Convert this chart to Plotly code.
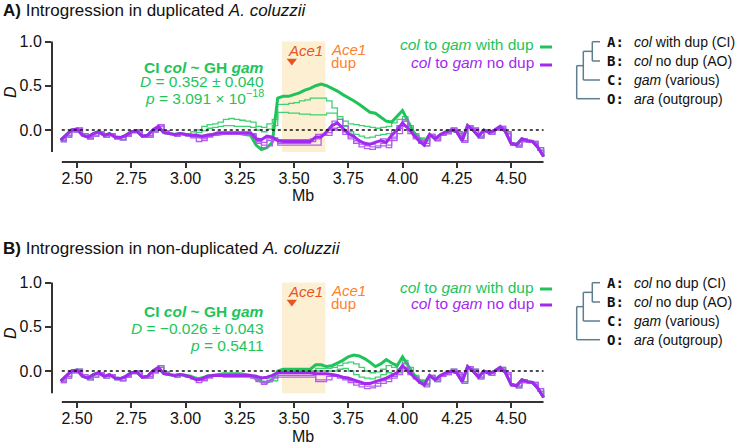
import plotly.graph_objects as go

# ---------------- data ----------------
POS_MB = [2.425, 2.45, 2.475, 2.5, 2.525, 2.55, 2.575, 2.6, 2.625, 2.65, 2.675, 2.7, 2.725, 2.75,
          2.775, 2.8, 2.825, 2.85, 2.875, 2.9, 2.925, 2.95, 2.975,
          3.0, 3.025, 3.05, 3.075, 3.1, 3.125, 3.15, 3.175, 3.2, 3.225, 3.25, 3.275, 3.3, 3.325,
          3.35, 3.375, 3.4, 3.425, 3.45, 3.475, 3.5, 3.525, 3.55, 3.575, 3.6, 3.625, 3.65, 3.675,
          3.7, 3.725, 3.75, 3.775, 3.8, 3.825, 3.85, 3.875, 3.9, 3.925, 3.95, 3.975, 4.0, 4.025,
          4.05, 4.075, 4.1,
          4.125, 4.15, 4.175, 4.2, 4.225, 4.25, 4.275, 4.3, 4.325, 4.35, 4.375, 4.4, 4.425, 4.45,
          4.475, 4.5, 4.525, 4.55, 4.575, 4.6, 4.625, 4.65]

# shared genomic background (left: 2.425-2.975, right: 4.125-4.65)
BG_LEFT = [-0.115, -0.06, 0.0, 0.01, -0.06, -0.08, -0.04, -0.02, -0.06, -0.04, -0.08, -0.085,
           -0.06, -0.02, -0.01, -0.07, -0.06, 0.0, 0.04, -0.03, -0.04, -0.05, -0.04]
BG_LEFT_ALT = [-0.13, -0.08, -0.02, 0.02, -0.04, -0.1, -0.07, -0.03, -0.08, -0.05, -0.1, -0.11,
               -0.07, -0.03, 0.0, -0.08, -0.08, -0.02, 0.06, -0.01, -0.05, -0.07, -0.05]
BG_RIGHT = [-0.05, -0.1, -0.05, -0.02, 0.0, -0.02, -0.12, 0.05, 0.0, -0.07, 0.0, -0.03, 0.0,
            0.04, -0.02, -0.15, -0.17, -0.1, -0.12, -0.13, -0.2, -0.3]
BG_RIGHT_ALT = [-0.07, -0.12, -0.06, -0.04, 0.02, -0.04, -0.14, 0.03, 0.02, -0.09, -0.02, -0.05,
                0.01, 0.02, -0.04, -0.17, -0.19, -0.13, -0.14, -0.15, -0.23, -0.3]

# window 3.0-4.1 Mb, panel A (duplicated col)
A_DUP_MAIN = [-0.05, -0.06, -0.07, -0.08, -0.06, -0.05, -0.05, -0.04, -0.04, -0.04, -0.04, -0.05,
              -0.06, -0.17, -0.22, -0.2, -0.14,
              0.36, 0.38, 0.38, 0.4, 0.42, 0.45, 0.47, 0.5, 0.52, 0.5, 0.47, 0.44, 0.4, 0.36, 0.33,
              0.29, 0.24, 0.2, 0.19, 0.15, 0.1, 0.09, 0.16, 0.22, 0.1, -0.02, -0.09, -0.14]
A_DUP_ALT1 = [-0.04, -0.02, 0.0, 0.04, 0.06, 0.07, 0.09, 0.12, 0.13, 0.12, 0.11, 0.1, 0.09, 0.04,
              0.03, 0.07, 0.12,
              0.29, 0.29, 0.3, 0.31, 0.33, 0.34, 0.36, 0.36, 0.36, 0.33, 0.25, 0.15, 0.1, 0.07, 0.06,
              0.05, 0.04, 0.03, 0.02, 0.03, 0.04, 0.08, 0.12, 0.15, 0.05, -0.04, -0.09, -0.12]
A_DUP_ALT2 = [-0.05, -0.05, -0.03, -0.01, 0.02, 0.03, 0.04, 0.05, 0.05, 0.04, 0.04, 0.04, 0.03,
              0.0, -0.02, 0.01, 0.05,
              0.2, 0.2, 0.19, 0.19, 0.18, 0.18, 0.17, 0.17, 0.17, 0.19, 0.19, 0.12, 0.04, -0.02,
              -0.05, -0.07, -0.09, -0.08, -0.06, -0.05, -0.04, 0.0, 0.05, 0.1, 0.0, -0.06, -0.1, -0.12]
A_NODUP_MAIN = [-0.05, -0.06, -0.06, -0.07, -0.06, -0.05, -0.03, -0.03, -0.03, -0.03, -0.03, -0.03,
                -0.03, -0.1, -0.11, -0.07, -0.08,
                -0.12, -0.13, -0.13, -0.13, -0.13, -0.13, -0.13, -0.08, -0.08, -0.02, 0.05, 0.08,
                0.02, -0.04, -0.07, -0.12, -0.15, -0.16, -0.14, -0.12, -0.14, -0.06, 0.0, 0.08, 0.02,
                -0.05, -0.12, -0.17]
A_NODUP_ALT1 = [-0.06, -0.09, -0.13, -0.1, -0.07, -0.06, -0.04, -0.04, -0.04, -0.04, -0.04, -0.04,
                -0.05, -0.15, -0.2, -0.18, -0.12,
                -0.15, -0.15, -0.15, -0.15, -0.15, -0.15, -0.1, -0.1, -0.06, 0.0, 0.1, 0.12, 0.05,
                -0.05, -0.12, -0.16, -0.18, -0.19, -0.18, -0.15, -0.17, -0.1, 0.02, 0.12, 0.0, -0.08,
                -0.15, -0.18]
A_NODUP_ALT2 = [-0.05, -0.07, -0.09, -0.12, -0.08, -0.06, -0.05, -0.05, -0.05, -0.05, -0.05, -0.05,
                -0.06, -0.12, -0.14, -0.1, -0.09,
                -0.17, -0.17, -0.17, -0.17, -0.17, -0.17, -0.17, -0.17, -0.05, -0.03, 0.02, 0.0,
                -0.05, -0.1, -0.15, -0.19, -0.21, -0.22, -0.2, -0.18, -0.2, -0.12, -0.04, 0.04,
                -0.04, -0.1, -0.15, -0.18]
A_NODUP_ALT3 = [-0.07, -0.08, -0.07, -0.09, -0.07, -0.05, -0.04, -0.04, -0.04, -0.04, -0.04, -0.04,
                -0.04, -0.13, -0.17, -0.12, -0.1,
                -0.11, -0.11, -0.11, -0.11, -0.11, -0.11, -0.13, -0.05, -0.05, -0.06, 0.0, 0.03,
                -0.02, -0.08, -0.12, -0.14, -0.17, -0.16, -0.13, -0.1, -0.12, -0.08, 0.05, 0.1, 0.0,
                -0.06, -0.12, -0.15]

# window 3.0-4.1 Mb, panel B (non-duplicated col)
B_DUP_MAIN = [-0.05, -0.06, -0.09, -0.08, -0.06, -0.05, -0.04, -0.03, -0.03, -0.03, -0.03, -0.04,
              -0.05, -0.09, -0.12, -0.13, -0.1,
              0.0, 0.02, 0.02, 0.02, 0.02, 0.02, 0.02, 0.07, 0.07, 0.05, 0.06, 0.09, 0.12, 0.16,
              0.18, 0.17, 0.14, 0.1, 0.05, 0.08, 0.13, 0.09, 0.06, 0.16, 0.07, -0.03, -0.1, -0.14]
B_DUP_ALT1 = [-0.06, -0.07, -0.08, -0.07, -0.05, -0.04, -0.04, -0.04, -0.04, -0.04, -0.04, -0.04,
              -0.05, -0.06, -0.08, -0.09, -0.07,
              0.0, 0.0, 0.0, 0.0, 0.0, 0.0, 0.0, 0.03, 0.03, 0.03, 0.04, 0.06, 0.09, 0.1, 0.08,
              0.04, 0.0, -0.02, -0.01, 0.02, 0.06, 0.04, 0.02, 0.12, 0.04, -0.05, -0.1, -0.14]
B_DUP_ALT2 = [-0.07, -0.09, -0.1, -0.08, -0.06, -0.05, -0.05, -0.05, -0.05, -0.05, -0.05, -0.05,
              -0.06, -0.1, -0.13, -0.12, -0.11,
              -0.01, -0.01, -0.01, -0.01, -0.01, -0.01, -0.01, 0.0, 0.0, 0.0, 0.0, 0.02, 0.03, 0.0,
              -0.04, -0.07, -0.08, -0.09, -0.07, -0.04, -0.02, -0.03, -0.02, 0.08, 0.0, -0.06,
              -0.11, -0.15]
B_NODUP_MAIN = [-0.05, -0.07, -0.1, -0.09, -0.06, -0.05, -0.05, -0.05, -0.05, -0.05, -0.05, -0.05,
                -0.05, -0.06, -0.08, -0.07, -0.05,
                -0.02, -0.02, -0.02, -0.02, -0.02, -0.02, -0.02, -0.03, -0.03, -0.03, -0.04, -0.05,
                -0.07, -0.08, -0.1, -0.12, -0.14, -0.14, -0.12, -0.1, -0.08, -0.05, -0.02, 0.06,
                0.0, -0.06, -0.12, -0.16]
B_NODUP_ALT1 = [-0.06, -0.09, -0.13, -0.11, -0.07, -0.06, -0.06, -0.06, -0.06, -0.06, -0.06, -0.06,
                -0.07, -0.1, -0.13, -0.11, -0.07,
                -0.05, -0.05, -0.05, -0.05, -0.05, -0.05, -0.05, -0.1, -0.1, -0.1, -0.06, -0.08,
                -0.1, -0.13, -0.16, -0.18, -0.2, -0.19, -0.17, -0.14, -0.12, -0.08, -0.04, 0.04,
                -0.04, -0.09, -0.14, -0.18]
B_NODUP_ALT2 = [-0.07, -0.08, -0.08, -0.1, -0.08, -0.06, -0.06, -0.07, -0.07, -0.07, -0.07, -0.07,
                -0.08, -0.12, -0.15, -0.12, -0.08,
                -0.07, -0.07, -0.07, -0.07, -0.07, -0.07, -0.07, -0.12, -0.12, -0.06, -0.04, -0.06,
                -0.09, -0.11, -0.13, -0.15, -0.17, -0.17, -0.14, -0.11, -0.09, -0.06, 0.0, 0.09,
                -0.02, -0.07, -0.12, -0.16]

X_TICKS = [2.5, 2.75, 3.0, 3.25, 3.5, 3.75, 4.0, 4.25, 4.5]
X_TICK_LABELS = ["2.50", "2.75", "3.00", "3.25", "3.50", "3.75", "4.00", "4.25", "4.50"]
Y_TICKS = [0.0, 0.5, 1.0]
Y_TICK_LABELS = ["0.0", "0.5", "1.0"]

DUP_REGION = (3.445, 3.645)
ACE1_POS = 3.49
ACE1_MARK_D = 0.78
D_MIN, D_MAX = -0.25, 1.0
X_LINE = (2.43, 4.65)

STATS = {
    "A": ["<b>CI <i>col</i> ~ GH <i>gam</i></b>", "<i>D</i> = 0.352 ± 0.040",
          "<i>p</i> = 3.091 × 10<sup>−18</sup>"],
    "B": ["<b>CI <i>col</i> ~ GH <i>gam</i></b>", "<i>D</i> = −0.026 ± 0.043",
          "<i>p</i> = 0.5411"],
}
TREE_LABELS = {
    "A": ["<i>col</i> with dup (CI)", "<i>col</i> no dup (AO)", "<i>gam</i> (various)",
          "<i>ara</i> (outgroup)"],
    "B": ["<i>col</i> no dup (CI)", "<i>col</i> no dup (AO)", "<i>gam</i> (various)",
          "<i>ara</i> (outgroup)"],
}
TREE_KEYS = ["A:", "B:", "C:", "O:"]
TITLES = {
    "A": "<b>A)</b> Introgression in duplicated <i>A. coluzzii</i>",
    "B": "<b>B)</b> Introgression in non-duplicated <i>A. coluzzii</i>",
}

# ---------------- style ----------------
W, H = 737, 446
FONT = "Liberation Sans, Arial, sans-serif"
MONO = "DejaVu Sans Mono, monospace"
GREEN = "#1ec45a"
GREEN_THIN = "#3fd172"
PURPLE = "#a22af0"
PURPLE_THIN = "#b45cf2"
ACE_RED = "#e8531f"
ACE_ORANGE = "#ff7f2a"
BAND = "#fdefd2"
TREE = "#5e7d8e"
AXIS = "#333333"
TXT = "#111111"


def px(x):
    return x / W


def py(y):
    return 1 - y / H


def full(left, window, right):
    return left + window + right


fig = go.Figure()

panels = {
    "A": dict(xa="x", ya="y", top=40, bot=162, zero=130, scale=88.5, off=0,
              dup=[A_DUP_ALT1, A_DUP_ALT2], dupm=A_DUP_MAIN,
              nod=[A_NODUP_ALT1, A_NODUP_ALT2, A_NODUP_ALT3], nodm=A_NODUP_MAIN,
              title_y=11, stats_y=[67, 82, 97], leg_y=[45, 63]),
    "B": dict(xa="x2", ya="y2", top=281, bot=402, zero=371, scale=88.5, off=241,
              dup=[B_DUP_ALT1, B_DUP_ALT2], dupm=B_DUP_MAIN,
              nod=[B_NODUP_ALT1, B_NODUP_ALT2], nodm=B_NODUP_MAIN,
              title_y=249, stats_y=[311, 328, 345], leg_y=[287, 303]),
}

shapes = []
annotations = []
layout_axes = {}

for i, (key, p) in enumerate(panels.items()):
    xa, ya = p["xa"], p["ya"]
    for k, win in enumerate(p["dup"]):
        left = BG_LEFT_ALT if k == 0 else BG_LEFT
        right = BG_RIGHT_ALT if k == 0 else BG_RIGHT
        fig.add_trace(go.Scatter(x=POS_MB, y=full(left, win, right), mode="lines",
                                 line=dict(color=GREEN_THIN, width=1.3, shape="hv"),
                                 xaxis=xa, yaxis=ya, showlegend=False, hoverinfo="skip"))
    fig.add_trace(go.Scatter(x=POS_MB, y=full(BG_LEFT, p["dupm"], BG_RIGHT), mode="lines",
                             line=dict(color=GREEN, width=3),
                             xaxis=xa, yaxis=ya, showlegend=False, hoverinfo="skip"))
    for k, win in enumerate(p["nod"]):
        left = BG_LEFT_ALT if k % 2 == 0 else BG_LEFT
        right = BG_RIGHT_ALT if k % 2 == 0 else BG_RIGHT
        fig.add_trace(go.Scatter(x=POS_MB, y=full(left, win, right), mode="lines",
                                 line=dict(color=PURPLE_THIN, width=1.3, shape="hv"),
                                 xaxis=xa, yaxis=ya, showlegend=False, hoverinfo="skip"))
    fig.add_trace(go.Scatter(x=POS_MB, y=full(BG_LEFT, p["nodm"], BG_RIGHT), mode="lines",
                             line=dict(color=PURPLE, width=3),
                             xaxis=xa, yaxis=ya, showlegend=False, hoverinfo="skip"))
    fig.add_trace(go.Scatter(x=[ACE1_POS], y=[ACE1_MARK_D], mode="markers",
                             marker=dict(symbol="triangle-down", size=9, color=ACE_RED),
                             xaxis=xa, yaxis=ya, showlegend=False, hoverinfo="skip"))

    y_lo = (p["zero"] - p["bot"]) / p["scale"]
    y_hi = (p["zero"] - p["top"]) / p["scale"]
    sfx = "" if i == 0 else "2"
    layout_axes["xaxis" + sfx] = dict(
        domain=[px(52), px(545)], range=[2.5 - 25 / 217, 2.5 + (545 - 77) / 217],
        anchor=ya, showgrid=False, zeroline=False, showline=False,
        ticks="outside", ticklen=5, tickwidth=2, tickcolor=AXIS,
        tickvals=X_TICKS, ticktext=X_TICK_LABELS, automargin=False,
        ticklabelstandoff=-3,
        tickfont=dict(family=FONT, size=16, color=TXT))
    layout_axes["yaxis" + sfx] = dict(
        domain=[py(p["bot"]), py(p["top"])], range=[y_lo, y_hi],
        anchor=xa, showgrid=False, zeroline=False, showline=False,
        ticks="outside", ticklen=6, tickwidth=2, tickcolor=AXIS,
        tickvals=Y_TICKS, ticktext=Y_TICK_LABELS, automargin=False,
        tickfont=dict(family=FONT, size=16, color=TXT))

    shapes.append(dict(type="rect", xref=xa, yref=ya, x0=DUP_REGION[0], x1=DUP_REGION[1],
                       y0=D_MIN, y1=D_MAX, fillcolor=BAND, line=dict(width=0), layer="below"))
    shapes.append(dict(type="line", xref=xa, yref=ya, x0=X_LINE[0], x1=X_LINE[1], y0=0, y1=0,
                       line=dict(color=TXT, width=1.5, dash="dot"), layer="above"))
    shapes.append(dict(type="line", xref="paper", yref=ya, x0=px(52), x1=px(52), y0=D_MIN,
                       y1=D_MAX, line=dict(color=AXIS, width=2)))
    shapes.append(dict(type="line", xref=xa, yref="paper", x0=X_LINE[0], x1=X_LINE[1],
                       y0=py(p["bot"]), y1=py(p["bot"]), line=dict(color=AXIS, width=2)))

    annotations.append(dict(text=TITLES[key], xref="paper", yref="paper", x=px(1),
                            y=py(p["title_y"]), xanchor="left", yanchor="middle",
                            showarrow=False, font=dict(family=FONT, size=17, color=TXT)))
    annotations.append(dict(text="<i>D</i>", xref="paper", yref="paper", x=px(10),
                            y=py(92 + p["off"]), textangle=-90, xanchor="center",
                            yanchor="middle", showarrow=False,
                            font=dict(family=FONT, size=16, color=TXT)))
    annotations.append(dict(text="Mb", xref="paper", yref="paper", x=px(303),
                            y=py(195 + p["off"]), xanchor="center",
                            yanchor="middle", showarrow=False,
                            font=dict(family=FONT, size=16, color=TXT)))
    for line, yy in zip(STATS[key], p["stats_y"]):
        annotations.append(dict(text=line, xref="paper", yref="paper", x=px(266), y=py(yy),
                                xanchor="right", yanchor="middle", showarrow=False,
                                font=dict(family=FONT, size=15.5, color=GREEN)))
    annotations.append(dict(text="<i>Ace1</i>", xref=xa, yref=ya, x=3.462, y=0.9,
                            xanchor="left", yanchor="middle", showarrow=False,
                            font=dict(family=FONT, size=15, color=ACE_RED)))
    annotations.append(dict(text="<i>Ace1</i>", xref=xa, yref=ya, x=3.663, y=0.915,
                            xanchor="left", yanchor="middle", showarrow=False,
                            font=dict(family=FONT, size=15, color=ACE_ORANGE)))
    annotations.append(dict(text="dup", xref=xa, yref=ya, x=3.663, y=0.765,
                            xanchor="left", yanchor="middle", showarrow=False,
                            font=dict(family=FONT, size=15, color=ACE_ORANGE)))
    for txt, col, yy in [("<i>col</i> to <i>gam</i> with dup", GREEN, p["leg_y"][0]),
                         ("<i>col</i> to <i>gam</i> no dup", PURPLE, p["leg_y"][1])]:
        annotations.append(dict(text=txt, xref="paper", yref="paper", x=px(536), y=py(yy),
                                xanchor="right", yanchor="middle", showarrow=False,
                                font=dict(family=FONT, size=15.5, color=col)))
        shapes.append(dict(type="line", xref="paper", yref="paper", x0=px(540), x1=px(552),
                           y0=py(yy + 2), y1=py(yy + 2), line=dict(color=col, width=3)))
    o = p["off"]
    tips = [41.7 + o, 61 + o, 80 + o, 98.7 + o]
    ab = (tips[0] + tips[1]) / 2
    abc = (ab + tips[2]) / 2
    segs = [
        (592.3, tips[0], 600, tips[0]), (592.3, tips[1], 600, tips[1]),
        (592.3, tips[0], 592.3, tips[1]), (583.3, ab, 592.3, ab),
        (583.3, ab, 583.3, tips[2]), (583.3, tips[2], 600, tips[2]),
        (576.7, abc, 583.3, abc), (576.7, abc, 576.7, tips[3]), (576.7, tips[3], 600, tips[3]),
    ]
    for x0, y0, x1, y1 in segs:
        shapes.append(dict(type="line", xref="paper", yref="paper", x0=px(x0), y0=py(y0),
                           x1=px(x1), y1=py(y1), line=dict(color=TREE, width=1.5)))
    for k, (lab, txt) in enumerate(zip(TREE_KEYS, TREE_LABELS[key])):
        annotations.append(dict(text="<b>" + lab + "</b>", xref="paper", yref="paper",
                                x=px(605), y=py(tips[k]), xanchor="left", yanchor="middle",
                                showarrow=False, font=dict(family=MONO, size=14, color=TXT)))
        annotations.append(dict(text=txt, xref="paper", yref="paper", x=px(632),
                                y=py(tips[k]), xanchor="left", yanchor="middle",
                                showarrow=False, font=dict(family=FONT, size=14, color=TXT)))

fig.update_layout(width=W, height=H, margin=dict(l=0, r=0, t=0, b=0, autoexpand=False),
                  paper_bgcolor="white", plot_bgcolor="white", showlegend=False,
                  shapes=shapes, annotations=annotations, **layout_axes)

fig.write_html("out.html", config={"displayModeBar": False},
               post_script="document.body.style.margin='0px';"
                           "document.body.style.overflow='hidden';")
